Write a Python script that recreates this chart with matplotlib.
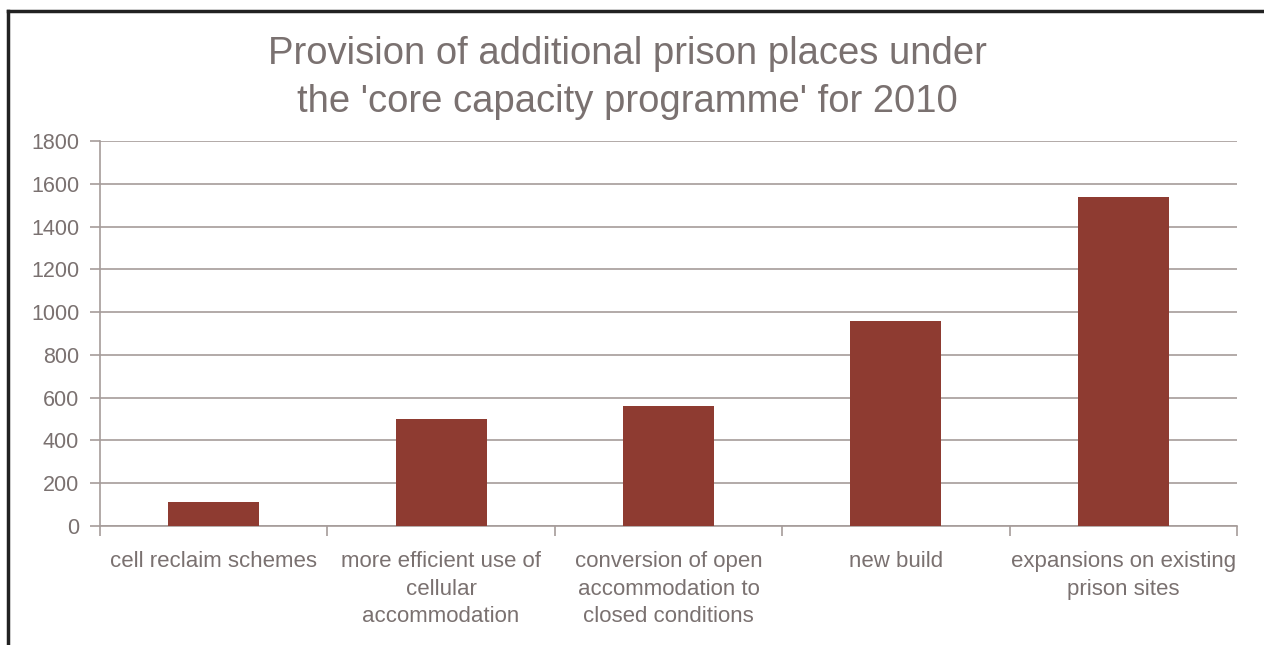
import matplotlib.pyplot as plt
import numpy as np

categories = [
    "cell reclaim schemes",
    "more efficient use of\ncellular\naccommodation",
    "conversion of open\naccommodation to\nclosed conditions",
    "new build",
    "expansions on existing\nprison sites",
]
places = [110, 500, 560, 960, 1540]
yticks = [0, 200, 400, 600, 800, 1000, 1200, 1400, 1600, 1800]

bar_color = "#8E3B31"
grid_color = "#A59C9A"
text_color = "#7A7170"

plt.rcParams["font.family"] = ["Liberation Sans", "DejaVu Sans"]

fig = plt.figure(figsize=(12.64, 6.45), dpi=100)
ax = fig.add_axes([100 / 1264, 1 - 526 / 645, 1137 / 1264, 385 / 645])

x = np.arange(len(categories))
ax.bar(x, places, width=0.4, color=bar_color, zorder=3)

ax.set_xlim(-0.5, len(categories) - 0.5)
ax.set_ylim(0, 1800)
ax.set_yticks(yticks)
ax.yaxis.grid(True, color=grid_color, linewidth=1.2, zorder=0)

# category ticks sit on the boundaries between bars
ax.set_xticks(np.arange(-0.5, len(categories)), minor=False)
ax.set_xticklabels([])
ax.set_xticks(x, minor=True)
ax.set_xticklabels(categories, minor=True, fontsize=16, color=text_color,
                   linespacing=1.42)
ax.tick_params(axis="x", which="major", length=7, color=grid_color, width=1.2)
ax.tick_params(axis="x", which="minor", length=0, pad=18)
ax.tick_params(axis="y", length=7, color=grid_color, width=1.2,
               labelsize=15.5, labelcolor=text_color, pad=8)

for side in ["top", "right"]:
    ax.spines[side].set_visible(False)
for side in ["left", "bottom"]:
    ax.spines[side].set_color(grid_color)
    ax.spines[side].set_linewidth(1.2)

fig.text(627 / 1264, 1 - 78 / 645,
         "Provision of additional prison places under\nthe 'core capacity programme' for 2010",
         ha="center", va="center", fontsize=27.5, color=text_color, linespacing=1.45)

# black frame around the figure (open on the right and bottom)
fig.add_artist(plt.Line2D([8 / 1264, 8 / 1264], [0, 1 - 11 / 645],
                          transform=fig.transFigure, color="#222222", linewidth=2.5))
fig.add_artist(plt.Line2D([8 / 1264, 1], [1 - 11 / 645, 1 - 11 / 645],
                          transform=fig.transFigure, color="#222222", linewidth=2.5))

fig.savefig("out.png", dpi=100)
